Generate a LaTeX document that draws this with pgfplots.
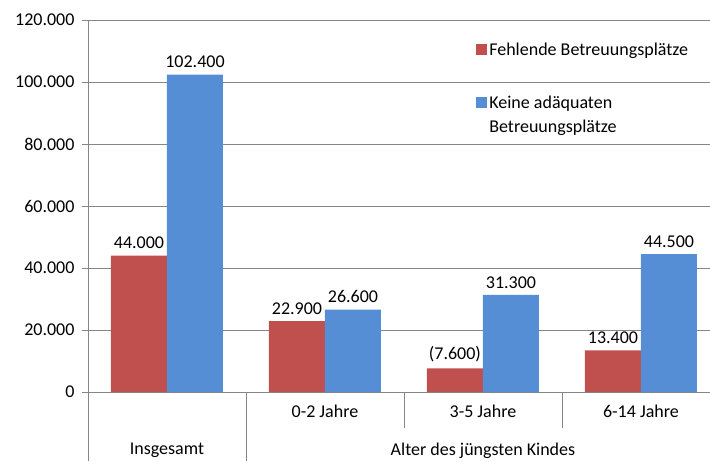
\documentclass[border=0pt]{standalone}
\usepackage{fontspec}
\setmainfont{Carlito}
\usepackage{pgfplots}
\pgfplotsset{compat=1.18}
\definecolor{cred}{HTML}{C0504D}
\definecolor{cblue}{HTML}{558ED5}
\definecolor{cgrid}{HTML}{868686}
\newcommand{\chartfont}{\fontsize{18}{24}\selectfont}
\begin{document}
\begin{tikzpicture}
\begin{axis}[
  name=ax,
  scale only axis, width=622pt, height=372pt,
  ybar=0pt, bar width=56pt,
  xmin=-0.5, xmax=3.437, ymin=0, ymax=120000,
  ytick={0,20000,40000,60000,80000,100000,120000},
  axis x line*=bottom, axis y line*=left,
  axis line style={cgrid, line width=0.8pt, -},
  ymajorgrids, grid style={cgrid, line width=0.8pt},
  xtick={1,2,3}, xticklabels={0-2 Jahre,3-5 Jahre,6-14 Jahre},
  extra x ticks={0}, extra x tick labels={Insgesamt},
  extra x tick style={xticklabel style={yshift=-38pt}},
  xtick style={draw=none},
  ytick style={cgrid, line width=0.8pt},
  tick align=outside, major tick length=6pt,
  scaled y ticks=false,
  /pgf/number format/fixed,
  /pgf/number format/1000 sep={.},
  /pgf/number format/assume math mode=true,
  ticklabel style={font=\chartfont, text=black},
  xticklabel style={yshift=-3pt},
  yticklabel style={xshift=-4pt},
  point meta=explicit symbolic,
  nodes near coords,
  nodes near coords style={font=\chartfont, text=black, yshift=3pt},
  clip=false,
  legend style={draw=none, fill=none, at={(rel axis cs:0.624,0.945)}, anchor=north west,
    font=\chartfont, row sep=35pt, inner sep=0pt, cells={anchor=west, align=left}},
  legend cell align=left,
]
\addplot[fill=cred, draw=none,
  legend image code/.code={\fill[cred] (0pt,-5.5pt) rectangle (11pt,5.5pt);}]
  table[x=x, y=y, meta=lab] {
x y lab
0 44000 44.000
1 22900 22.900
2 7600 (7.600)
3 13400 13.400
};
\addplot[fill=cblue, draw=none,
  legend image code/.code={\fill[cblue] (0pt,6.5pt) rectangle (11pt,17.5pt);}]
  table[x=x, y=y, meta=lab] {
x y lab
0 102400 102.400
1 26600 26.600
2 31300 31.300
3 44500 44.500
};
\legend{Fehlende Betreuungsplätze, {Keine adäquaten\\Betreuungsplätze}}
\draw[cgrid, line width=0.8pt] (axis cs:-0.5,0) -- ++(0pt,-69pt);
\draw[cgrid, line width=0.8pt] (axis cs:0.5,0) -- ++(0pt,-69pt);
\draw[cgrid, line width=0.8pt] (axis cs:1.5,0) -- ++(0pt,-36pt);
\draw[cgrid, line width=0.8pt] (axis cs:2.5,0) -- ++(0pt,-36pt);
\node[font=\chartfont] at (axis cs:2,0) [yshift=-59pt] {Alter des jüngsten Kindes};
\end{axis}
\pgfresetboundingbox
\path ([xshift=-88pt,yshift=-69pt]ax.south west) rectangle ([yshift=20pt]ax.north east);
\end{tikzpicture}
\end{document}
